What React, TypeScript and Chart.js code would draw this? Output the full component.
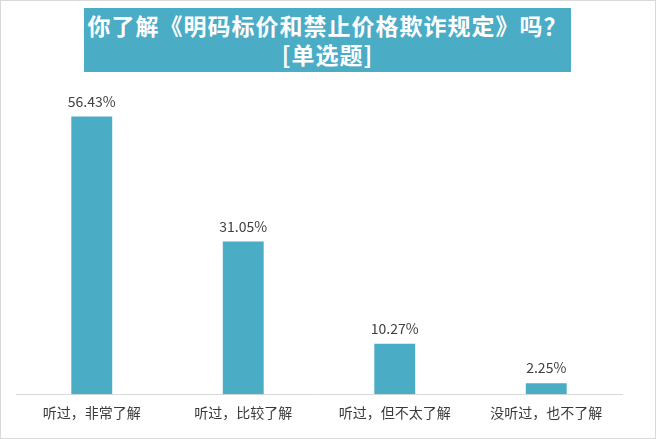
import React, { useEffect, useRef } from "react";
import { Chart, registerables } from "chart.js";

Chart.register(...registerables);

const categories = ["听过，非常了解", "听过，比较了解", "听过，但不太了解", "没听过，也不了解"];
const values = [56.43, 31.05, 10.27, 2.25];
const titleLine1 = "你了解《明码标价和禁止价格欺诈规定》吗？";
const titleLine2 = "[单选题]";

const FONT = '"Noto Sans CJK SC", "Noto Sans", sans-serif';

const valueLabels = {
  id: "valueLabels",
  afterDatasetsDraw(chart: any) {
    const ctx = chart.ctx;
    const meta = chart.getDatasetMeta(0);
    ctx.save();
    ctx.font = `14px ${FONT}`;
    ctx.fillStyle = "#404040";
    ctx.textAlign = "center";
    ctx.textBaseline = "bottom";
    meta.data.forEach((bar: any, i: number) => {
      ctx.fillText(values[i].toFixed(2) + "%", bar.x, bar.y - 8);
    });
    ctx.restore();
  },
};

export default function App() {
  const ref = useRef<HTMLCanvasElement>(null);
  useEffect(() => {
    document.body.style.margin = "0";
    const chart = new Chart(ref.current!, {
      type: "bar",
      data: {
        labels: categories,
        datasets: [
          {
            data: values,
            backgroundColor: "#4BACC6",
            barPercentage: 0.27,
            categoryPercentage: 1,
          },
        ],
      },
      options: {
        animation: false,
        responsive: false,
        layout: { padding: { left: 15, right: 33, top: 98, bottom: 7 } },
        plugins: { legend: { display: false }, tooltip: { enabled: false } },
        scales: {
          x: {
            grid: { display: false, drawTicks: false },
            border: { display: true, color: "#d9d9d9", width: 1 },
            ticks: { color: "#3a3a3a", font: { family: FONT, size: 14 }, padding: 10, maxRotation: 0, autoSkip: false },
          },
          y: { display: false, min: 0, max: 60 },
        },
      },
      plugins: [valueLabels],
    });
    return () => chart.destroy();
  }, []);
  return (
    <div
      style={{
        position: "relative",
        width: 656,
        height: 439,
        boxSizing: "border-box",
        border: "1px solid #d9d9d9",
        background: "#fff",
      }}
    >
      <canvas ref={ref} width={654} height={437} style={{ display: "block", width: 654, height: 437 }} />
      <div
        style={{
          position: "absolute",
          left: 83,
          top: 7,
          width: 487,
          height: 64,
          background: "#4BACC6",
          color: "#fff",
          fontFamily: FONT,
          fontWeight: "bold",
          textAlign: "center",
          fontSize: 23,
          letterSpacing: 1,
          lineHeight: "29px",
          paddingTop: 3,
          boxSizing: "border-box",
        }}
      >
        <div style={{ whiteSpace: "nowrap" }}>{titleLine1}</div>
        <div>{titleLine2}</div>
      </div>
    </div>
  );
}
